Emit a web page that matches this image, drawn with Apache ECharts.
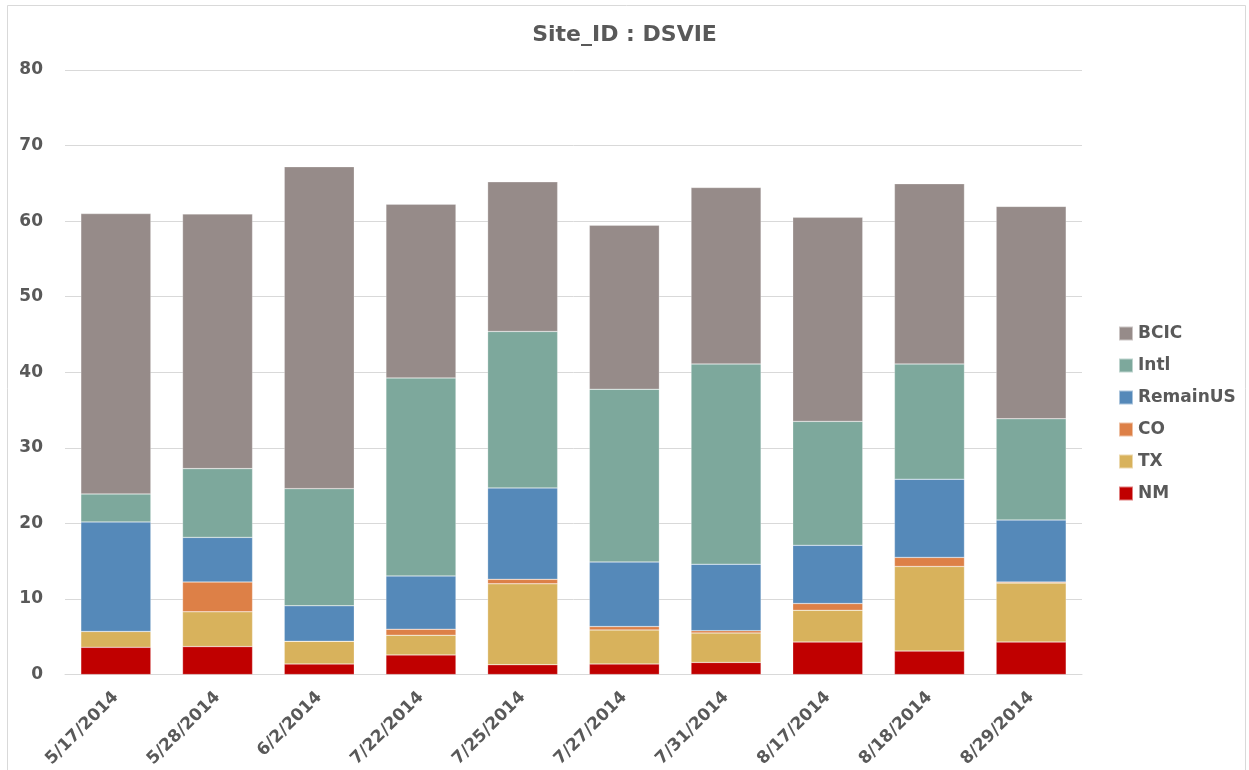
<!DOCTYPE html>
<html>
<head>
<meta charset="utf-8">
<script src="https://cdn.jsdelivr.net/npm/echarts@6/dist/echarts.min.js"></script>
<style>
  html, body { margin: 0; padding: 0; background: #fff; }
  #chart { width: 1249px; height: 770px; }
</style>
</head>
<body>
<div id="chart"></div>
<script>
// Visit dates (categories)
const dates = ['5/17/2014', '5/28/2014', '6/2/2014', '7/22/2014', '7/25/2014',
               '7/27/2014', '7/31/2014', '8/17/2014', '8/18/2014', '8/29/2014'];

// Stacked components, bottom to top
const NM       = [3.6, 3.7, 1.4, 2.6, 1.3, 1.4, 1.6, 4.3, 3.1, 4.3];
const TX       = [2.1, 4.6, 3.0, 2.6, 10.7, 4.5, 3.9, 4.2, 11.2, 7.8];
const CO       = [0, 3.95, 0, 0.8, 0.6, 0.45, 0.3, 0.9, 1.2, 0.15];
const RemainUS = [14.5, 5.9, 4.7, 7.05, 12.1, 8.55, 8.8, 7.7, 10.35, 8.2];
const Intl     = [3.7, 9.1, 15.5, 26.2, 20.7, 22.85, 26.5, 16.4, 15.25, 13.4];
const BCIC     = [37.1, 33.7, 42.6, 23.0, 19.8, 21.7, 23.35, 27.0, 23.85, 28.1];

const yTicks = { min: 0, max: 80, interval: 10 };

const FONT = '"DejaVu Sans", sans-serif';
const TEXT = '#595959';

const seriesDefs = [
  { name: 'NM', data: NM, color: '#c00000' },
  { name: 'TX', data: TX, color: '#d8b25c' },
  { name: 'CO', data: CO, color: '#dd8047' },
  { name: 'RemainUS', data: RemainUS, color: '#5589b9' },
  { name: 'Intl', data: Intl, color: '#7da89c' },
  { name: 'BCIC', data: BCIC, color: '#968b89' }
];

const chart = echarts.init(document.getElementById('chart'), null, { renderer: 'canvas' });

chart.setOption({
  animation: false,
  backgroundColor: '#fff',
  title: {
    text: 'Site_ID : DSVIE',
    left: 'center',
    top: 19,
    textStyle: { fontFamily: FONT, fontSize: 22, fontWeight: 'bold', color: TEXT }
  },
  graphic: [{
    type: 'rect',
    shape: { x: 7.5, y: 5.5, width: 1238, height: 770 },
    style: { fill: 'none', stroke: '#d9d9d9', lineWidth: 1 },
    silent: true
  }],
  legend: {
    orient: 'vertical',
    left: 1113,
    top: 320,
    itemWidth: 14,
    itemHeight: 14,
    itemGap: 15,
    icon: 'rect',
    data: ['BCIC', 'Intl', 'RemainUS', 'CO', 'TX', 'NM'],
    textStyle: { fontFamily: FONT, fontSize: 17, fontWeight: 'bold', color: TEXT }
  },
  grid: { left: 65, right: 167, top: 70, bottom: 95 },
  xAxis: {
    type: 'category',
    data: dates,
    axisLine: { lineStyle: { color: '#d9d9d9' } },
    axisTick: { show: false },
    axisLabel: {
      rotate: 45,
      interval: 0,
      margin: 20,
      fontFamily: FONT,
      fontSize: 17,
      fontWeight: 'bold',
      color: TEXT
    }
  },
  yAxis: {
    type: 'value',
    min: yTicks.min,
    max: yTicks.max,
    interval: yTicks.interval,
    axisLine: { show: false },
    axisTick: { show: false },
    splitLine: { lineStyle: { color: '#d9d9d9', width: 1 } },
    axisLabel: {
      margin: 22,
      fontFamily: FONT,
      fontSize: 17,
      fontWeight: 'bold',
      color: TEXT
    }
  },
  series: seriesDefs.map(s => ({
    name: s.name,
    type: 'bar',
    stack: 'total',
    barWidth: 70,
    data: s.data,
    itemStyle: { color: s.color, borderColor: 'rgba(255,255,255,0.5)', borderWidth: 0.5 }
  }))
});
</script>
</body>
</html>
